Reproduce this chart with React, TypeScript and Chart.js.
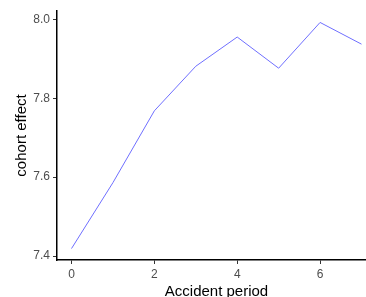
import React, { useEffect, useRef } from "react";
import { Chart, registerables } from "chart.js";

Chart.register(...registerables);

const periods = [0, 1, 2, 3, 4, 5, 6, 7];
const cohortEffect = [7.419, 7.586, 7.768, 7.881, 7.955, 7.876, 7.992, 7.937];
const xTicks = [0, 2, 4, 6];
const yTicks = [7.4, 7.6, 7.8, 8.0];

export default function App() {
  const ref = useRef<HTMLCanvasElement | null>(null);
  useEffect(() => {
    document.body.style.margin = "0";
    const ctx = ref.current!;
    const chart = new Chart(ctx, {
      type: "scatter",
      data: {
        datasets: [
          {
            data: periods.map((p, i) => ({ x: p, y: cohortEffect[i] })),
            showLine: true,
            borderColor: "#6f6fff",
            borderWidth: 1,
            pointRadius: 0,
            fill: false,
          },
        ],
      },
      options: {
        animation: false,
        responsive: false,
        devicePixelRatio: 1,
        layout: { padding: { top: 11, left: 0, right: 4, bottom: 0 } },
        plugins: { legend: { display: false }, tooltip: { enabled: false } },
        scales: {
          x: {
            type: "linear",
            min: -0.35,
            max: 7.35,
            afterBuildTicks: (s: any) => {
              s.ticks = xTicks.map((v) => ({ value: v }));
            },
            afterFit: (s: any) => {
              s.height = 50;
            },
            border: { display: true, color: "#000000", width: 1.5 },
            grid: { drawOnChartArea: false, tickLength: 4, color: "#333333", lineWidth: 1 },
            ticks: {
              padding: 3,
              color: "#4d4d4d",
              font: { family: "'Liberation Sans', Arial, sans-serif", size: 12 },
              callback: (v: any) => String(v),
            },
            title: {
              display: true,
              text: "Accident period",
              color: "#000000",
              font: { family: "'Liberation Sans', Arial, sans-serif", size: 15 },
              padding: { top: 0, bottom: 9 },
            },
          },
          y: {
            type: "linear",
            min: 7.39,
            max: 8.021,
            afterBuildTicks: (s: any) => {
              s.ticks = yTicks.map((v) => ({ value: v }));
            },
            afterFit: (s: any) => {
              s.width = 57;
            },
            border: { display: true, color: "#000000", width: 1.5 },
            grid: { drawOnChartArea: false, tickLength: 4, color: "#333333", lineWidth: 1 },
            ticks: {
              padding: 3,
              color: "#4d4d4d",
              font: { family: "'Liberation Sans', Arial, sans-serif", size: 12 },
              callback: (v: any) => Number(v).toFixed(1),
            },
            title: {
              display: true,
              text: "cohort effect",
              color: "#000000",
              font: { family: "'Liberation Sans', Arial, sans-serif", size: 15 },
              padding: { top: 13, bottom: 0 },
            },
          },
        },
      },
    });
    return () => chart.destroy();
  }, []);
  return (
    <div style={{ position: "fixed", left: 0, top: 0, width: 366, height: 297, overflow: "hidden", background: "#fff" }}>
      <canvas ref={ref} width={380} height={310} style={{ width: 380, height: 310, display: "block" }} />
    </div>
  );
}
